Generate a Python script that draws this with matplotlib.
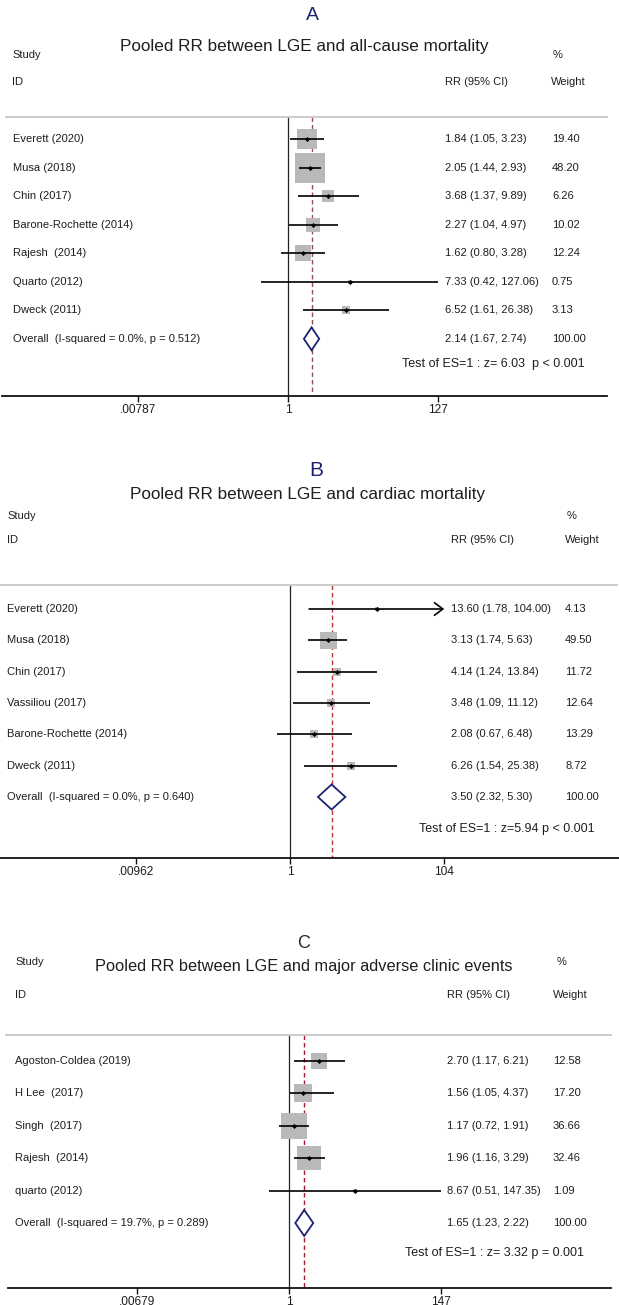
import numpy as np
import matplotlib
matplotlib.use("Agg")
import matplotlib.pyplot as plt
from matplotlib.transforms import blended_transform_factory
from matplotlib.patches import Polygon

plt.rcParams['font.family'] = ['Liberation Sans', 'DejaVu Sans']

# ---------------- data ----------------
A_letter = "A"
A_title = "Pooled RR between LGE and all-cause mortality"
A_studies = ["Everett (2020)", "Musa (2018)", "Chin (2017)", "Barone-Rochette (2014)",
             "Rajesh  (2014)", "Quarto (2012)", "Dweck (2011)"]
A_rr = [1.84, 2.05, 3.68, 2.27, 1.62, 7.33, 6.52]
A_lo = [1.05, 1.44, 1.37, 1.04, 0.80, 0.42, 1.61]
A_hi = [3.23, 2.93, 9.89, 4.97, 3.28, 127.06, 26.38]
A_w = [19.40, 48.20, 6.26, 10.02, 12.24, 0.75, 3.13]
A_overall = [2.14, 1.67, 2.74]
A_het = "Overall  (I-squared = 0.0%, p = 0.512)"
A_test = "Test of ES=1 : z= 6.03  p < 0.001"
A_ticks = [0.00787, 1, 127]
A_ticklabels = [".00787", "1", "127"]

B_letter = "B"
B_title = "Pooled RR between LGE and cardiac mortality"
B_studies = ["Everett (2020)", "Musa (2018)", "Chin (2017)", "Vassiliou (2017)",
             "Barone-Rochette (2014)", "Dweck (2011)"]
B_rr = [13.60, 3.13, 4.14, 3.48, 2.08, 6.26]
B_lo = [1.78, 1.74, 1.24, 1.09, 0.67, 1.54]
B_hi = [104.00, 5.63, 13.84, 11.12, 6.48, 25.38]
B_w = [4.13, 49.50, 11.72, 12.64, 13.29, 8.72]
B_overall = [3.50, 2.32, 5.30]
B_het = "Overall  (I-squared = 0.0%, p = 0.640)"
B_test = "Test of ES=1 : z=5.94 p < 0.001"
B_ticks = [0.00962, 1, 104]
B_ticklabels = [".00962", "1", "104"]

C_letter = "C"
C_title = "Pooled RR between LGE and major adverse clinic events"
C_studies = ["Agoston-Coldea (2019)", "H Lee  (2017)", "Singh  (2017)",
             "Rajesh  (2014)", "quarto (2012)"]
C_rr = [2.70, 1.56, 1.17, 1.96, 8.67]
C_lo = [1.17, 1.05, 0.72, 1.16, 0.51]
C_hi = [6.21, 4.37, 1.91, 3.29, 147.35]
C_w = [12.58, 17.20, 36.66, 32.46, 1.09]
C_overall = [1.65, 1.23, 2.22]
C_het = "Overall  (I-squared = 19.7%, p = 0.289)"
C_test = "Test of ES=1 : z= 3.32 p = 0.001"
C_ticks = [0.00679, 1, 147]
C_ticklabels = [".00679", "1", "147"]

# ---------------- layout (pixels) ----------------
W, H = 619, 1305
fig = plt.figure(figsize=(W / 100, H / 100), dpi=100)
fig.patch.set_facecolor("white")

TXT = "#1e1e1e"
NAVY = "#1c2270"
BOX = "#b9b9b9"


def fx(px):
    return px / W


def fy(py):
    return 1 - py / H


def panel(studies, rr, lo, hi, w, overall, het, test, ticks, ticklabels,
          letter, title, lay):
    x0, k = lay["x0"], lay["k"]
    first, step = lay["first"], lay["step"]
    sep, axis_px = lay["sep"], lay["axis"]
    n = len(studies)

    ax = fig.add_axes([0, fy(axis_px), 1, (axis_px - sep) / H])
    ax.set_xscale("log")
    ax.set_xlim(np.exp(-x0 / k), np.exp((W - x0) / k))
    ax.set_ylim((axis_px - first) / step, (sep - first) / step)
    ax.patch.set_alpha(0)
    for s in ["top", "left", "right"]:
        ax.spines[s].set_visible(False)
    ax.spines["bottom"].set_linewidth(1.3)
    ax.spines["bottom"].set_color("#111111")
    ax.spines["bottom"].set_bounds(np.exp((lay["axis_x"][0] - x0) / k),
                                   np.exp((lay["axis_x"][1] - x0) / k))
    ax.set_yticks([])
    ax.set_xticks(ticks)
    ax.set_xticklabels(ticklabels)
    ax.minorticks_off()
    ax.tick_params(axis="x", which="both", length=4, width=1, pad=1.5,
                   labelsize=8.6, labelcolor=TXT, color="#111111")
    ax.xaxis.set_tick_params(which="minor", length=0)

    ymin_row = (sep - first) / step
    ymax_row = (axis_px - first) / step

    # separator line (figure coords)
    fig.add_artist(plt.Line2D([fx(lay["sep_x"][0]), fx(lay["sep_x"][1])],
                              [fy(sep), fy(sep)], color="#cccccc", lw=1.4,
                              transform=fig.transFigure))
    # null line and pooled line
    ax.plot([1, 1], [ymin_row, ymax_row], color="#222222", lw=0.9, zorder=2)
    ax.plot([overall[0]] * 2, [ymin_row, ymax_row], color=lay["dash"], lw=1.0,
            ls=(0, (3.2, 2.2)), zorder=2)

    ys = np.arange(n)
    clip = lay["clip"]
    for i in range(n):
        side = lay["box"] * np.sqrt(w[i]) * 0.72
        ax.plot(rr[i], ys[i], marker="s", ms=side, color=BOX, mew=0, zorder=3)
        if clip is not None and hi[i] >= clip:
            ax.annotate("", xy=(clip, ys[i]), xytext=(lo[i], ys[i]),
                        arrowprops=dict(arrowstyle="->,head_length=0.6,head_width=0.45",
                                        color="black", lw=1.2, shrinkA=0, shrinkB=0),
                        zorder=4)
        else:
            ax.plot([lo[i], hi[i]], [ys[i], ys[i]], color="black", lw=1.2, zorder=4,
                    solid_capstyle="butt")
        ax.plot(rr[i], ys[i], marker="D", ms=2.6, color="black", mew=0, zorder=5)

    # overall diamond
    yo = n
    dia = Polygon([[overall[1], yo], [overall[0], yo - 0.4], [overall[2], yo],
                   [overall[0], yo + 0.4]], closed=True, facecolor="white",
                  edgecolor=NAVY, lw=1.3, zorder=5)
    ax.add_patch(dia)

    tr = blended_transform_factory(fig.transFigure, ax.transData)
    fs = 8.0
    for i in range(n):
        ax.text(fx(lay["label_x"]), ys[i], studies[i], transform=tr, fontsize=fs,
                color=TXT, va="center", ha="left")
        ax.text(fx(lay["rr_x"]), ys[i], f"{rr[i]:.2f} ({lo[i]:.2f}, {hi[i]:.2f})",
                transform=tr, fontsize=fs, color=TXT, va="center", ha="left")
        ax.text(fx(lay["w_x"]), ys[i], f"{w[i]:.2f}", transform=tr, fontsize=fs,
                color=TXT, va="center", ha="left")
    ax.text(fx(lay["label_x"]), yo, het, transform=tr, fontsize=fs, color=TXT,
            va="center", ha="left")
    ax.text(fx(lay["rr_x"]), yo, f"{overall[0]:.2f} ({overall[1]:.2f}, {overall[2]:.2f})",
            transform=tr, fontsize=fs, color=TXT, va="center", ha="left")
    ax.text(fx(lay["w_x"]), yo, "100.00", transform=tr, fontsize=fs, color=TXT,
            va="center", ha="left")
    ax.text(fx(lay["test_right"]), (lay["test_y"] - first) / step, test, transform=tr,
            fontsize=9.0, color=TXT, va="center", ha="right")

    # headers
    fig.text(fx(lay["letter_x"]), fy(lay["letter_y"]), letter, fontsize=lay["letter_fs"],
             color=lay["letter_c"], ha="center", va="center")
    fig.text(fx(lay["title_x"]), fy(lay["title_y"]), title, fontsize=lay["title_fs"],
             color=TXT, ha="center", va="center")
    fig.text(fx(lay["study_x"]), fy(lay["study_y"]), "Study", fontsize=fs, color=TXT,
             ha="left", va="center")
    fig.text(fx(lay["pct_x"]), fy(lay["study_y"]), "%", fontsize=fs, color=TXT,
             ha="left", va="center")
    fig.text(fx(lay["study_x"]), fy(lay["id_y"]), "ID", fontsize=fs, color=TXT,
             ha="left", va="center")
    fig.text(fx(lay["rrh_x"]), fy(lay["id_y"]), "RR (95% CI)", fontsize=fs, color=TXT,
             ha="left", va="center")
    fig.text(fx(lay["wh_x"]), fy(lay["id_y"]), "Weight", fontsize=fs, color=TXT,
             ha="left", va="center")
    return ax


layA = dict(x0=288, k=30.97, first=139, step=28.55, sep=117, axis=396,
            axis_x=(2, 607), sep_x=(6, 607), label_x=13, rr_x=445, w_x=552,
            test_right=585, test_y=364, box=31 / np.sqrt(48.2), dash="#9a4a5c",
            clip=None,
            letter_x=312, letter_y=15, letter_fs=14, letter_c=NAVY,
            title_x=304, title_y=47, title_fs=12.3, study_x=12, study_y=55,
            pct_x=553, id_y=82, rrh_x=445, wh_x=551)
layB = dict(x0=290, k=33.2, first=609, step=31.33, sep=585, axis=858,
            axis_x=(0, 619), sep_x=(0, 617), label_x=7, rr_x=451, w_x=565,
            test_right=595, test_y=829, box=17 / np.sqrt(49.5), dash="#c0303c",
            clip=104,
            letter_x=316, letter_y=471, letter_fs=15, letter_c=NAVY,
            title_x=308, title_y=494, title_fs=12.3, study_x=7, study_y=516,
            pct_x=567, id_y=540, rrh_x=451, wh_x=565)
layC = dict(x0=289, k=30.4, first=1061, step=32.4, sep=1035, axis=1288,
            axis_x=(8, 611), sep_x=(6, 611), label_x=15, rr_x=447, w_x=553,
            test_right=584, test_y=1253, box=26 / np.sqrt(36.66), dash="#a8182c",
            clip=None,
            letter_x=304, letter_y=943, letter_fs=13, letter_c="#2a2a2a",
            title_x=304, title_y=966, title_fs=11.8, study_x=15, study_y=962,
            pct_x=557, id_y=995, rrh_x=447, wh_x=553)

panel(A_studies, A_rr, A_lo, A_hi, A_w, A_overall, A_het, A_test, A_ticks,
      A_ticklabels, A_letter, A_title, layA)
panel(B_studies, B_rr, B_lo, B_hi, B_w, B_overall, B_het, B_test, B_ticks,
      B_ticklabels, B_letter, B_title, layB)
panel(C_studies, C_rr, C_lo, C_hi, C_w, C_overall, C_het, C_test, C_ticks,
      C_ticklabels, C_letter, C_title, layC)

fig.savefig("out.png", dpi=100, facecolor="white")
